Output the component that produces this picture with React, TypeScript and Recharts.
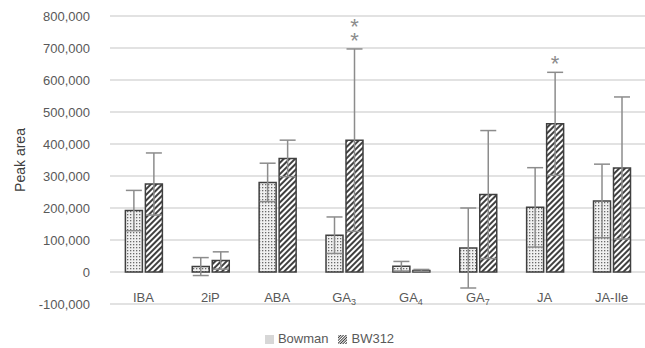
import { BarChart, Bar, XAxis, YAxis, CartesianGrid, ErrorBar, LabelList, Legend } from 'recharts'

const categories = ['IBA', '2iP', 'ABA', 'GA3', 'GA4', 'GA7', 'JA', 'JA-Ile']
const bowman = [192000, 17000, 280000, 115000, 18000, 75000, 202000, 222000]
const bowmanErr = [63000, 28000, 60000, 57000, 15000, 125000, 124000, 115000]
const bw312 = [275000, 36000, 355000, 412000, 5000, 242000, 463000, 325000]
const bw312Err = [97000, 27000, 57000, 285000, 3000, 200000, 161000, 222000]
const significance = ['', '', '', '**', '', '', '*', '']
const yTicks = [-100000, 0, 100000, 200000, 300000, 400000, 500000, 600000, 700000, 800000]

const data = categories.map((name, i) => ({
  name,
  Bowman: bowman[i],
  bowmanErr: bowmanErr[i],
  BW312: bw312[i],
  bw312Err: bw312Err[i],
}))

const font = '"Liberation Sans", Arial, sans-serif'
const textColor = '#595959'

// x labels sit above the bottom gridline, like the original
const CategoryTick = ({ x, y, payload }: any) => {
  const label: string = payload.value
  const m = label.match(/^GA(\d)$/)
  return (
    <text x={x} y={y - 2} textAnchor="middle" fill={textColor} fontSize={13} fontFamily={font}>
      {m ? (
        <>
          GA<tspan fontSize={9} dy={3}>{m[1]}</tspan>
        </>
      ) : (
        label
      )}
    </text>
  )
}

// stacked asterisks above the BW312 error bar
const SigLabel = (props: any) => {
  const { x, y, width, height, value, index } = props
  const mark = significance[index]
  if (!mark || !value) return null
  const errPx = (bw312Err[index] * height) / value
  const top = y - errPx
  const cx = x + width / 2
  const n = mark.length
  return (
    <text x={cx} y={top - 1 - (n - 1) * 14} textAnchor="middle" fill="#8c8c8c" fontSize={22} fontFamily={font}>
      {mark.split('').map((s, k) => (
        <tspan key={k} x={cx} dy={k === 0 ? 0 : 14}>
          {s}
        </tspan>
      ))}
    </text>
  )
}

export default function App() {
  return (
    <div style={{ position: 'absolute', left: 0, top: 0 }}>
      <BarChart
        width={645}
        height={348}
        data={data}
        margin={{ top: 16, right: 0, bottom: 9, left: 0 }}
        barCategoryGap="23%"
        barGap={3}
      >
        <defs>
          <pattern id="dots" width="3" height="3" patternUnits="userSpaceOnUse">
            <rect width="3" height="3" fill="#f0f0f0" />
            <rect x="1" y="1" width="1.3" height="1.3" fill="#6a6a6a" />
          </pattern>
          <pattern id="hatch" width="4" height="4" patternUnits="userSpaceOnUse" patternTransform="rotate(45)">
            <rect width="4" height="4" fill="#ffffff" />
            <rect width="2" height="4" fill="#404040" />
          </pattern>
        </defs>
        <CartesianGrid vertical={false} stroke="#d9d9d9" strokeWidth={1.3} />
        <XAxis
          dataKey="name"
          axisLine={false}
          tickLine={false}
          tickSize={0}
          tickMargin={0}
          height={20}
          interval={0}
          tick={<CategoryTick />}
        />
        <YAxis
          domain={[-100000, 800000]}
          ticks={yTicks}
          width={110}
          axisLine={false}
          tickLine={false}
          tickSize={0}
          tickMargin={20}
          tickFormatter={(v: number) => v.toLocaleString('en-US')}
          tick={{ fill: textColor, fontSize: 13, fontFamily: font }}
          label={{
            value: 'Peak area',
            angle: -90,
            position: 'insideLeft',
            offset: 20,
            style: { fill: '#404040', fontSize: 14, fontFamily: font, textAnchor: 'middle' },
          }}
        />
        <Legend
          verticalAlign="bottom"
          iconType="square"
          iconSize={9}
          itemSorter={(item: any) => (item.dataKey === 'Bowman' ? 0 : 1)}
          wrapperStyle={{ fontSize: 13, fontFamily: font, color: textColor, bottom: 2, paddingLeft: 12 }}
          formatter={(v: string) => <span style={{ color: textColor }}>{v}</span>}
        />
        <Bar dataKey="Bowman" fill="url(#dots)" stroke="#404040" strokeWidth={1.5} isAnimationActive={false}>
          <ErrorBar dataKey="bowmanErr" width={8} stroke="#8c8c8c" strokeWidth={1.5} />
        </Bar>
        <Bar dataKey="BW312" fill="url(#hatch)" stroke="#404040" strokeWidth={1.5} isAnimationActive={false}>
          <ErrorBar dataKey="bw312Err" width={8} stroke="#8c8c8c" strokeWidth={1.5} />
          <LabelList dataKey="BW312" content={<SigLabel />} />
        </Bar>
      </BarChart>
    </div>
  )
}
